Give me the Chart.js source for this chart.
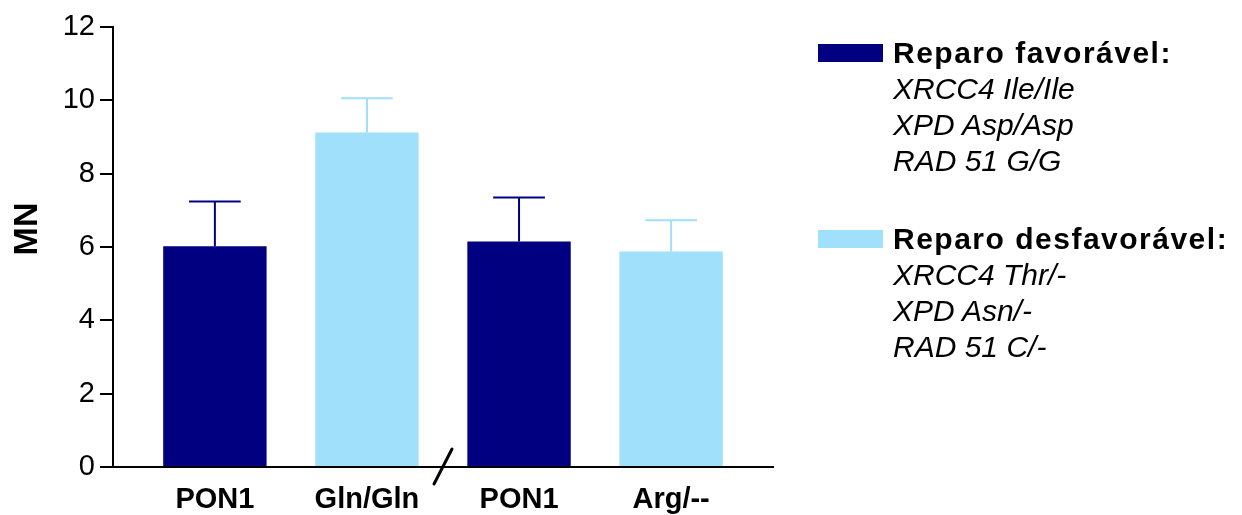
<!DOCTYPE html>
<html>
<head>
<meta charset="utf-8">
<script src="https://cdn.jsdelivr.net/npm/chart.js@4.4.0/dist/chart.umd.min.js"></script>
<style>
    html, body { margin: 0; padding: 0; background: #fff; }
    #wrap { position: relative; width: 1242px; height: 515px; }
    #legenda { position: absolute; left: 818px; top: 35px; font-family: "Liberation Sans", Arial, sans-serif; color: #000; }
    .grupo { position: relative; margin-bottom: 42px; }
    .caixa { position: absolute; left: 0; top: 9px; width: 65px; height: 18px; }
    .titulo { margin-left: 75px; font-weight: bold; font-size: 30px; letter-spacing: 1.5px; line-height: 36px; }
    .linha { margin-left: 75px; font-style: italic; font-size: 30px; line-height: 36px; }
</style>
</head>
<body>
<div id="wrap">
    <canvas id="mnChart" width="1242" height="515"></canvas>
    <div id="legenda"></div>
</div>
<script>
const categorias = ['PON1', 'Gln/Gln', 'PON1', 'Arg/--'];
const mediaMN = [6.02, 9.12, 6.15, 5.88];
const erroMN = [1.22, 0.94, 1.2, 0.85];
const gruposBarra = [0, 1, 0, 1];
const nomesSeries = ['Reparo favorável:', 'Reparo desfavorável:'];
const linhasSeries = [
    ['XRCC4 Ile/Ile', 'XPD Asp/Asp', 'RAD 51 G/G'],
    ['XRCC4 Thr/-', 'XPD Asn/-', 'RAD 51 C/-']
];
const coresSeries = ['#000080', '#a0e0fa'];
const ticksY = [0, 2, 4, 6, 8, 10, 12];
const tituloY = 'MN';

// legenda em HTML
const legenda = document.getElementById('legenda');
nomesSeries.forEach(function(nome, i) {
    const g = document.createElement('div');
    g.className = 'grupo';
    let html = '<div class="caixa" style="background:' + coresSeries[i] + '"></div>';
    html += '<div class="titulo">' + nome + '</div>';
    linhasSeries[i].forEach(function(l) {
        html += '<div class="linha">' + l + '</div>';
    });
    g.innerHTML = html;
    legenda.appendChild(g);
});

const coresBarras = gruposBarra.map(function(g) { return coresSeries[g]; });

const errorBars = {
    id: 'errorBars',
    afterDatasetsDraw: function(chart) {
        const ctx = chart.ctx;
        const meta = chart.getDatasetMeta(0);
        const y = chart.scales.y;
        meta.data.forEach(function(bar, i) {
            const topo = y.getPixelForValue(mediaMN[i] + erroMN[i]);
            const meio = bar.width / 4;
            ctx.save();
            ctx.strokeStyle = coresBarras[i];
            ctx.lineWidth = 2;
            ctx.beginPath();
            ctx.moveTo(bar.x, bar.y);
            ctx.lineTo(bar.x, topo);
            ctx.moveTo(bar.x - meio, topo);
            ctx.lineTo(bar.x + meio, topo);
            ctx.stroke();
            ctx.restore();
        });
    }
};

const extras = {
    id: 'extras',
    afterDraw: function(chart) {
        const ctx = chart.ctx;
        const cx = chart.scales.x.getPixelForValue(1.5);
        const base = chart.chartArea.bottom;
        ctx.save();
        ctx.strokeStyle = '#000';
        ctx.lineWidth = 3;
        ctx.lineCap = 'round';
        ctx.beginPath();
        ctx.moveTo(cx - 9, base + 17);
        ctx.lineTo(cx + 9, base - 18);
        ctx.stroke();
        // titulo do eixo y
        ctx.translate(28, 229);
        ctx.rotate(-Math.PI / 2);
        ctx.fillStyle = '#000';
        ctx.font = 'bold 34px "Liberation Sans"';
        ctx.textAlign = 'center';
        ctx.textBaseline = 'middle';
        ctx.fillText(tituloY, 0, 0);
        ctx.restore();
    }
};

new Chart(document.getElementById('mnChart'), {
    type: 'bar',
    data: {
        datasets: [{
            data: mediaMN.map(function(v, i) { return { x: i, y: v }; }),
            backgroundColor: coresBarras,
            borderWidth: 0,
            barPercentage: 0.68,
            categoryPercentage: 1
        }]
    },
    options: {
        responsive: false,
        animation: false,
        layout: { padding: { left: 0, right: 469, top: 27, bottom: 0 } },
        plugins: {
            legend: { display: false },
            tooltip: { enabled: false }
        },
        scales: {
            x: {
                type: 'linear',
                offset: false,
                min: -0.67,
                max: 3.67,
                afterBuildTicks: function(scale) {
                    scale.ticks = categorias.map(function(c, i) { return { value: i }; });
                },
                afterFit: function(scale) { scale.height = 48; },
                grid: { display: false },
                border: { display: true, color: '#000', width: 2 },
                ticks: {
                    autoSkip: false,
                    maxRotation: 0,
                    padding: 8,
                    color: '#000',
                    font: { family: 'Liberation Sans', size: 29, weight: 'bold' },
                    callback: function(v) { return categorias[v]; }
                }
            },
            y: {
                min: 0,
                max: 12,
                afterBuildTicks: function(scale) {
                    scale.ticks = ticksY.map(function(v) { return { value: v }; });
                },
                afterFit: function(scale) { scale.width = 113; },
                grid: { drawOnChartArea: false, color: '#000', lineWidth: 2, tickLength: 13 },
                border: { color: '#000', width: 2 },
                ticks: {
                    padding: 5,
                    color: '#000',
                    font: { family: 'Liberation Sans', size: 29 }
                }
            }
        }
    },
    plugins: [errorBars, extras]
});
</script>
</body>
</html>
